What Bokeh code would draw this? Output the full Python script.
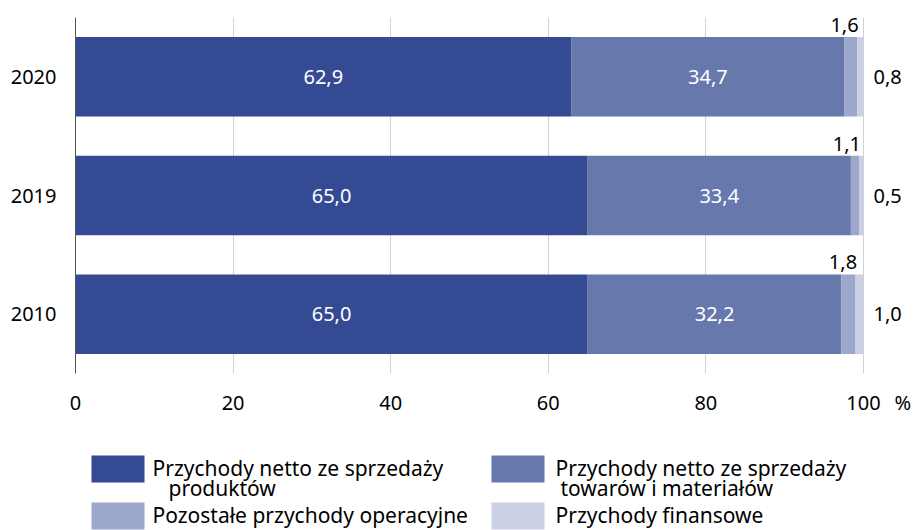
from bokeh.plotting import figure
from bokeh.models import ColumnDataSource, LabelSet, FactorRange, Range1d, FixedTicker
from bokeh.layouts import column
from bokeh.embed import file_html
from bokeh.resources import INLINE
from bokeh.core.properties import value

# ---- data ----
years = ["2010", "2019", "2020"]
produkty = [65.0, 65.0, 62.9]
towary = [32.2, 33.4, 34.7]
pozostale = [1.8, 1.1, 1.6]
finansowe = [1.0, 0.5, 0.8]
series_keys = ["produkty", "towary", "pozostale", "finansowe"]
legend_labels = [
    ["Przychody netto ze sprzedaży", "produktów"],
    ["Przychody netto ze sprzedaży", "towarów i materiałów"],
    ["Pozostałe przychody operacyjne"],
    ["Przychody finansowe"],
]
x_ticks = [0, 20, 40, 60, 80, 100]
unit = "%"
unit_tick = 105

colors = ["#344a92", "#6778ad", "#9ba7cb", "#cbd0e4"]
FONT = "Noto Sans"
FS = "20px"
LFS = "21px"


def fmt(v):
    return f"{v:.1f}".replace(".", ",")


src = ColumnDataSource(dict(year=years, produkty=produkty, towary=towary,
                            pozostale=pozostale, finansowe=finansowe))

W = 913
LEFT = 75
p = figure(width=W, height=418, y_range=FactorRange(*years, range_padding=0),
           x_range=Range1d(0, 106.35), output_backend="svg", toolbar_location=None,
           min_border_left=LEFT, min_border_right=0, min_border_top=17,
           min_border_bottom=45)
p.hbar_stack(series_keys, y="year", height=0.67, color=colors, source=src,
             line_color=None)

in_x, in_y, in_t = [], [], []
top_x, top_y, top_t = [], [], []
r_x, r_y, r_t = [], [], []
for i, yr in enumerate(years):
    a, b, c, d = produkty[i], towary[i], pozostale[i], finansowe[i]
    in_x += [a / 2, a + b / 2]
    in_y += [yr, yr]
    in_t += [fmt(a), fmt(b)]
    top_x.append(a + b + c)
    top_y.append(yr)
    top_t.append(fmt(c))
    r_x.append(a + b + c + d)
    r_y.append(yr)
    r_t.append(fmt(d))

p.add_layout(LabelSet(x="x", y="y", text="t",
                      source=ColumnDataSource(dict(x=in_x, y=in_y, t=in_t)),
                      text_align="center", text_baseline="middle",
                      text_color="white", text_font=value(FONT), text_font_size=FS))
p.add_layout(LabelSet(x="x", y="y", text="t",
                      source=ColumnDataSource(dict(x=top_x, y=top_y, t=top_t)),
                      text_align="right", text_baseline="alphabetic", x_offset=1.5, y_offset=45,
                      text_color="black", text_font=value(FONT), text_font_size=FS))
p.add_layout(LabelSet(x="x", y="y", text="t",
                      source=ColumnDataSource(dict(x=r_x, y=r_y, t=r_t)),
                      text_align="left", text_baseline="middle", x_offset=10,
                      text_color="black", text_font=value(FONT), text_font_size=FS))

p.xaxis.ticker = FixedTicker(ticks=x_ticks + [unit_tick])
p.xaxis.major_label_overrides = {unit_tick: unit}
p.xaxis.axis_line_color = None
p.xaxis.major_tick_line_color = None
p.xaxis.minor_tick_line_color = None
p.xaxis.major_label_standoff = 9
p.xaxis.major_label_text_font = FONT
p.xaxis.major_label_text_font_size = FS
p.xaxis.major_label_text_color = "black"

p.yaxis.axis_line_color = "#555555"
p.yaxis.major_tick_line_color = None
p.yaxis.minor_tick_line_color = None
p.yaxis.major_label_standoff = 13
p.yaxis.major_label_text_font = FONT
p.yaxis.major_label_text_font_size = FS
p.yaxis.major_label_text_color = "black"

p.xgrid.grid_line_color = "#d2d2d2"
p.xgrid.ticker = FixedTicker(ticks=x_ticks)
p.ygrid.grid_line_color = None
p.outline_line_color = None

# ---- legend ----
LH = 112
lg = figure(width=W, height=LH, x_range=Range1d(LEFT, W), y_range=Range1d(LH, 0),
            output_backend="svg", toolbar_location=None,
            min_border_left=LEFT, min_border_right=0,
            min_border_top=0, min_border_bottom=0)
lg.axis.visible = False
lg.grid.visible = False
lg.outline_line_color = None

col_x = [91, 491]
txt_x = [152, 555]
ind_x = [168, 560]
row_y = [37, 84]
sq_l, sq_r, sq_t, sq_b, t_x, t_y, t_t = [], [], [], [], [], [], []
for k, lab in enumerate(legend_labels):
    c = k % 2
    ry = row_y[k // 2]
    sq_l.append(col_x[c]); sq_r.append(col_x[c] + 53)
    sq_t.append(ry); sq_b.append(ry + 27)
    for j, line in enumerate(lab):
        t_x.append(ind_x[c] if j else txt_x[c])
        t_y.append(ry + 12 + 20 * j)
        t_t.append(line)
lg.quad(left=sq_l, right=sq_r, top=sq_t, bottom=sq_b, color=colors, line_color=None)
lg.text(x=t_x, y=t_y, text=t_t, text_align="left", text_baseline="alphabetic",
        text_font=value(FONT), text_font_size=LFS, text_color="black")

layout = column(p, lg, spacing=0)
open("out.html", "w").write(file_html(layout, INLINE))
